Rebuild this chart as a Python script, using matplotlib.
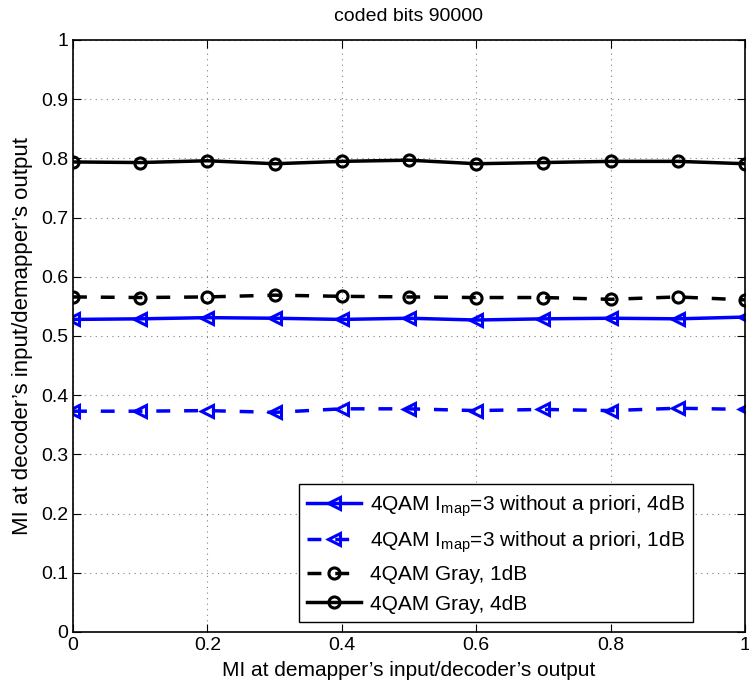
import matplotlib
matplotlib.use("Agg")
import matplotlib.pyplot as plt

plt.rcParams["font.family"] = ["Liberation Sans", "DejaVu Sans"]
plt.rcParams["mathtext.fontset"] = "custom"
plt.rcParams["mathtext.rm"] = "Liberation Sans"

x = [0, 0.1, 0.2, 0.3, 0.4, 0.5, 0.6, 0.7, 0.8, 0.9, 1.0]
map_4db = [0.528, 0.529, 0.531, 0.530, 0.528, 0.530, 0.527, 0.529, 0.530, 0.529, 0.532]
map_1db = [0.373, 0.373, 0.374, 0.371, 0.377, 0.377, 0.374, 0.376, 0.374, 0.378, 0.376]
gray_1db = [0.566, 0.565, 0.566, 0.569, 0.567, 0.566, 0.565, 0.565, 0.562, 0.566, 0.561]
gray_4db = [0.794, 0.793, 0.796, 0.791, 0.795, 0.797, 0.791, 0.793, 0.795, 0.795, 0.791]

fig = plt.figure(figsize=(7.49, 6.91), dpi=100)
ax = fig.add_axes([73 / 749, 59 / 691, 672 / 749, 592 / 691])

ax.plot(x, map_4db, "-", color="blue", lw=2.5, marker="<", ms=9, mfc="none", mew=2.2,
        label=r"4QAM I$_{\mathrm{map}}$=3 without a priori, 4dB")
ax.plot(x, map_1db, "--", color="blue", lw=2.5, marker="<", ms=9, mfc="none", mew=2.2,
        dashes=(4, 4), label=r"4QAM I$_{\mathrm{map}}$=3 without a priori, 1dB")
ax.plot(x, gray_1db, "--", color="black", lw=2.5, marker="o", ms=8, mfc="none", mew=2.2,
        dashes=(4, 4), label="4QAM Gray, 1dB")
ax.plot(x, gray_4db, "-", color="black", lw=2.5, marker="o", ms=8, mfc="none", mew=2.2,
        label="4QAM Gray, 4dB")

ax.set_xlim(0, 1)
ax.set_ylim(0, 1)
ax.set_xticks([0, 0.2, 0.4, 0.6, 0.8, 1])
ax.set_xticklabels(["0", "0.2", "0.4", "0.6", "0.8", "1"])
ax.set_yticks([i / 10 for i in range(11)])
ax.set_yticklabels(["0", "0.1", "0.2", "0.3", "0.4", "0.5", "0.6", "0.7", "0.8", "0.9", "1"])
ax.tick_params(direction="in", top=True, right=True, labelsize=14, length=6)
ax.grid(True, linestyle=(0, (1, 4)), color="gray", lw=0.8)
for s in ax.spines.values():
    s.set_linewidth(1.2)

ax.set_title("coded bits 90000", fontsize=14, pad=14)
ax.set_xlabel("MI at demapper\u2019s input/decoder\u2019s output", fontsize=15, labelpad=5)
ax.set_ylabel("MI at decoder\u2019s input/demapper\u2019s output", fontsize=16, labelpad=6)

leg = ax.legend(loc="lower right", fontsize=15, fancybox=False, framealpha=1,
                edgecolor="black", handlelength=2.6, borderaxespad=0,
                labelspacing=0.5, handletextpad=0.4, borderpad=0.4)
leg.set_bbox_to_anchor((620 / 672, 10 / 592), transform=ax.transAxes)
leg.get_frame().set_linewidth(1.0)

fig.savefig("out.png", dpi=100)
